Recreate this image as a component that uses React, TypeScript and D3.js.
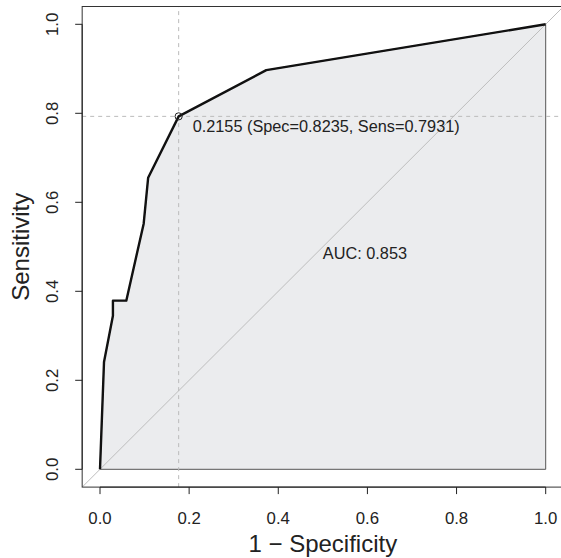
import React from "react";
import * as d3 from "d3";

const fpr = [0, 0.009, 0.029, 0.029, 0.059, 0.098, 0.108, 0.1765, 0.373, 1];
const tpr = [0, 0.241, 0.345, 0.379, 0.379, 0.552, 0.655, 0.7931, 0.897, 1];
const xTicks = [0, 0.2, 0.4, 0.6, 0.8, 1.0];
const yTicks = [0, 0.2, 0.4, 0.6, 0.8, 1.0];
const bestFpr = 0.1765;
const bestTpr = 0.7931;
const thresholdLabel = "0.2155 (Spec=0.8235, Sens=0.7931)";
const aucLabel = "AUC: 0.853";
const xTitle = "1 \u2212 Specificity";
const yTitle = "Sensitivity";

const W = 561;
const H = 558;
const FONT = "'Liberation Sans', Arial, Helvetica, sans-serif";

export default function App() {
  const x = d3.scaleLinear().domain([0, 1]).range([100, 545.7]);
  const y = d3.scaleLinear().domain([0, 1]).range([469.3, 24.3]);
  const x0 = x(-0.04), x1 = x(1.04), y0 = y(-0.04), y1 = y(1.04);
  const pts: [number, number][] = fpr.map((f, i) => [f, tpr[i]]);
  const line = d3.line<[number, number]>().x(d => x(d[0])).y(d => y(d[1]));
  const poly: [number, number][] = [...pts, [1, 0], [0, 0]];
  return (
    <svg width={W} height={H} style={{ position: "absolute", left: 0, top: 0, background: "#fff" }}
      fontFamily={FONT}>
      <defs>
        <clipPath id="plotclip"><rect x={x0} y={y1} width={x1 - x0} height={y0 - y1} /></clipPath>
      </defs>
      <rect x={0} y={0} width={W} height={H} fill="#fff" />
      <g clipPath="url(#plotclip)">
        <path d={line(poly) || ""} fill="#ebecee" stroke="#555" strokeWidth={1} />
        <line x1={x(-0.04)} y1={y(-0.04)} x2={x(1.04)} y2={y(1.04)} stroke="#bdbdbd" strokeWidth={1} />
        <line x1={x(bestFpr)} y1={y0} x2={x(bestFpr)} y2={y1} stroke="#bbb" strokeWidth={1} strokeDasharray="4,4" />
        <line x1={x0} y1={y(bestTpr)} x2={x1} y2={y(bestTpr)} stroke="#bbb" strokeWidth={1} strokeDasharray="4,4" />
        <path d={line(pts) || ""} fill="none" stroke="#111" strokeWidth={2.4} strokeLinejoin="round" />
        <circle cx={x(bestFpr)} cy={y(bestTpr)} r={3.6} fill="none" stroke="#222" strokeWidth={1} />
      </g>
      <rect x={x0} y={y1} width={x1 - x0} height={y0 - y1} fill="none" stroke="#333" strokeWidth={1} />
      <text x={x(bestFpr) + 14} y={y(bestTpr) + 15.6} fontSize={16.3} fill="#222">{thresholdLabel}</text>
      <text x={x(0.5)} y={y(0.5) + 12.4} fontSize={16.3} fill="#222">{aucLabel}</text>
      {/* x axis */}
      <line x1={x(0)} x2={x(1)} y1={y0} y2={y0} stroke="#222" strokeWidth={1} />
      {xTicks.map(t => (
        <g key={"x" + t}>
          <line x1={x(t)} x2={x(t)} y1={y0} y2={y0 + 7} stroke="#222" strokeWidth={1} />
          <text x={x(t)} y={y0 + 36.4} textAnchor="middle" fontSize={16.8} fill="#222">{t.toFixed(1)}</text>
        </g>
      ))}
      {/* y axis */}
      <line x1={x0} x2={x0} y1={y(0)} y2={y(1)} stroke="#222" strokeWidth={1} />
      {yTicks.map(t => (
        <g key={"y" + t}>
          <line x1={x0} x2={x0 - 7} y1={y(t)} y2={y(t)} stroke="#222" strokeWidth={1} />
          <text transform={`translate(${x0 - 24.2},${y(t)}) rotate(-90)`} textAnchor="middle" fontSize={16.8} fill="#222">{t.toFixed(1)}</text>
        </g>
      ))}
      <text x={(x0 + x1) / 2} y={552} textAnchor="middle" fontSize={24} fill="#222">{xTitle}</text>
      <text transform={`translate(28.5,${(y0 + y1) / 2}) rotate(-90)`} textAnchor="middle" fontSize={24} fill="#222">{yTitle}</text>
    </svg>
  );
}
